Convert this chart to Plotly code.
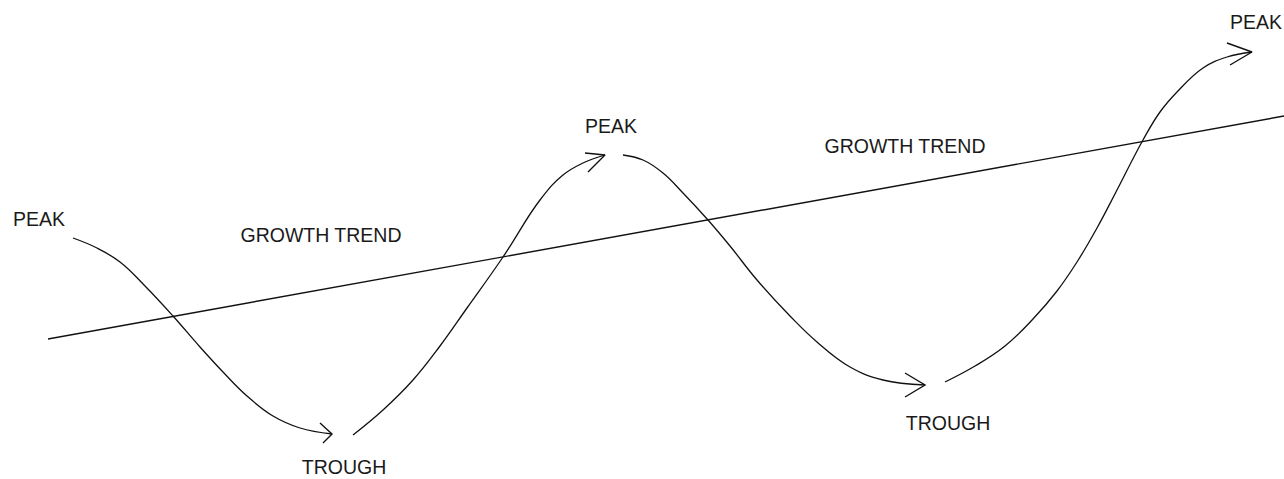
import plotly.graph_objects as go

# Canvas coordinates (pixel-like units, y downward)
W, H = 1284, 479

# Growth trend line endpoints
trend_x = [48, 1284]
trend_y = [339, 116]

# Cycle curves (control points)
c1_x = [73, 97, 120, 145, 173, 200, 223, 247, 273, 300, 332]
c1_y = [238, 248, 262, 286, 316, 347, 372, 396, 416, 428, 434]

c2_x = [353, 383, 413, 440, 467, 503, 540, 563, 583, 605]
c2_y = [435, 410, 380, 346, 308, 257, 200, 175, 163, 155]

c3_x = [623, 643, 663, 683, 708, 730, 757, 790, 817, 850, 883, 925]
c3_y = [155, 160, 173, 193, 220, 246, 280, 316, 342, 367, 380, 385]

c4_x = [945, 975, 1005, 1033, 1057, 1077, 1097, 1117, 1143, 1160, 1177, 1203, 1227, 1252]
c4_y = [382, 366, 346, 319, 291, 262, 228, 190, 140, 112, 92, 68, 57, 52]

# Open arrowheads: barb, tip, barb
a1_x = [320, 332, 323]
a1_y = [423, 434, 443]
a2_x = [585, 605, 588]
a2_y = [153, 155, 172]
a3_x = [905, 925, 905]
a3_y = [373, 385, 397]
a4_x = [1227, 1252, 1230]
a4_y = [43, 52, 65]

# Labels
label_text = ["PEAK", "GROWTH TREND", "TROUGH", "PEAK", "GROWTH TREND", "TROUGH", "PEAK"]
label_x = [39, 321, 344, 611, 905, 948, 1256]
label_y = [221, 237, 469, 128, 148, 425, 24]

line_style = dict(color="#111111", width=1.4)

fig = go.Figure()
fig.add_trace(go.Scatter(x=trend_x, y=trend_y, mode="lines", line=line_style, hoverinfo="skip"))
for cx, cy in [(c1_x, c1_y), (c2_x, c2_y), (c3_x, c3_y), (c4_x, c4_y)]:
    fig.add_trace(go.Scatter(x=cx, y=cy, mode="lines",
                             line=dict(color="#111111", width=1.3, shape="spline", smoothing=1.2),
                             hoverinfo="skip"))
for ax_, ay_ in [(a1_x, a1_y), (a2_x, a2_y), (a3_x, a3_y), (a4_x, a4_y)]:
    fig.add_trace(go.Scatter(x=ax_, y=ay_, mode="lines", line=line_style, hoverinfo="skip"))

fig.add_trace(go.Scatter(x=label_x, y=label_y, mode="text", text=label_text,
                         textposition="middle center", cliponaxis=False,
                         textfont=dict(family="Liberation Sans, Arial, sans-serif", size=19.5, color="#1a1a1a"),
                         hoverinfo="skip"))

fig.update_layout(
    width=W, height=H,
    margin=dict(l=0, r=0, t=0, b=0),
    paper_bgcolor="white", plot_bgcolor="white",
    showlegend=False,
    xaxis=dict(range=[0, W], visible=False, fixedrange=True),
    yaxis=dict(range=[H, 0], visible=False, fixedrange=True),
)

fig.write_html(
    "out.html",
    config={"displayModeBar": False},
    post_script="document.body.style.margin='0';document.body.style.overflow='hidden';",
)
